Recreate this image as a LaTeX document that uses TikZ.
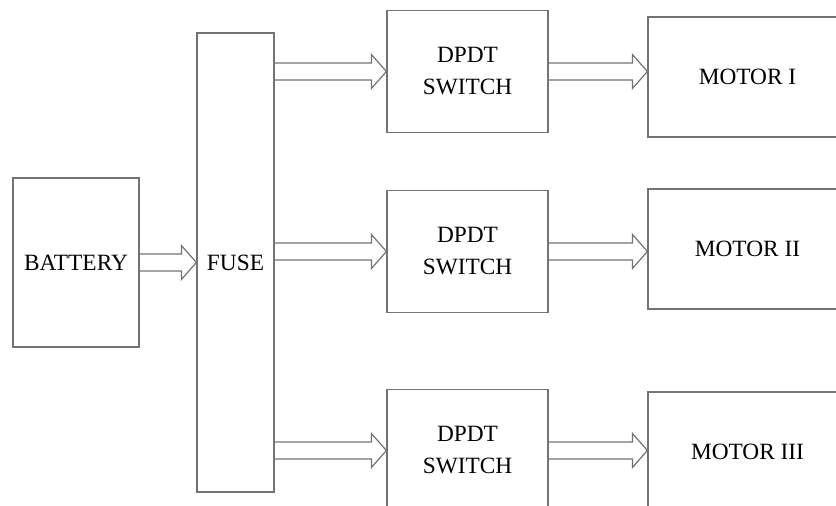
\documentclass[tikz,border=0pt]{standalone}
\usepackage{fontspec}
\setmainfont{Liberation Serif}
\usetikzlibrary{calc}

% hollow block arrow from #1 to #2 (same height)
\newcommand{\fatarr}[2]{%
  \draw[fat] ($(#1)+(0,-8.5)$) -- ($(#2)+(-15,-8.5)$) -- ($(#2)+(-15,-17)$) -- (#2)
    -- ($(#2)+(-15,17)$) -- ($(#2)+(-15,8.5)$) -- ($(#1)+(0,8.5)$);}

\begin{document}
\begin{tikzpicture}[
  x=0.75pt, y=-0.75pt,
  block/.style={draw=black!55, line width=0.9pt, align=center, inner sep=0pt,
    font=\fontsize{17.5}{24}\selectfont},
  swbox/.style={block, minimum width=120.75pt, minimum height=91.5pt},
  motbox/.style={block, minimum width=149.25pt, minimum height=90pt},
  fat/.style={draw=black!55, line width=0.9pt, line join=miter}
]
\useasboundingbox (0,0) rectangle (836,506);
\clip (0,0) rectangle (836,506);

\node[block, minimum width=94.5pt, minimum height=126.75pt] (bat) at (76,262.5) {BATTERY};
\node[block, minimum width=57.75pt, minimum height=344.25pt] (fuse) at (235.5,262.5) {FUSE};

\node[swbox] (sw1) at (467.5,71.5) {DPDT\\SWITCH};
\node[swbox] (sw2) at (467.5,251.5) {DPDT\\SWITCH};
\node[swbox] (sw3) at (467.5,450.5) {DPDT\\SWITCH};

\node[motbox] (m1) at (747.5,77) {MOTOR I};
\node[motbox] (m2) at (747.5,249) {MOTOR II};
\node[motbox] (m3) at (747.5,452) {MOTOR III};

\fatarr{bat.east}{fuse.west |- bat.east}
\foreach \i in {1,2,3} {
  \fatarr{fuse.east |- sw\i.west}{sw\i.west}
  \fatarr{sw\i.east}{m\i.west |- sw\i.east}
}
\end{tikzpicture}
\end{document}
